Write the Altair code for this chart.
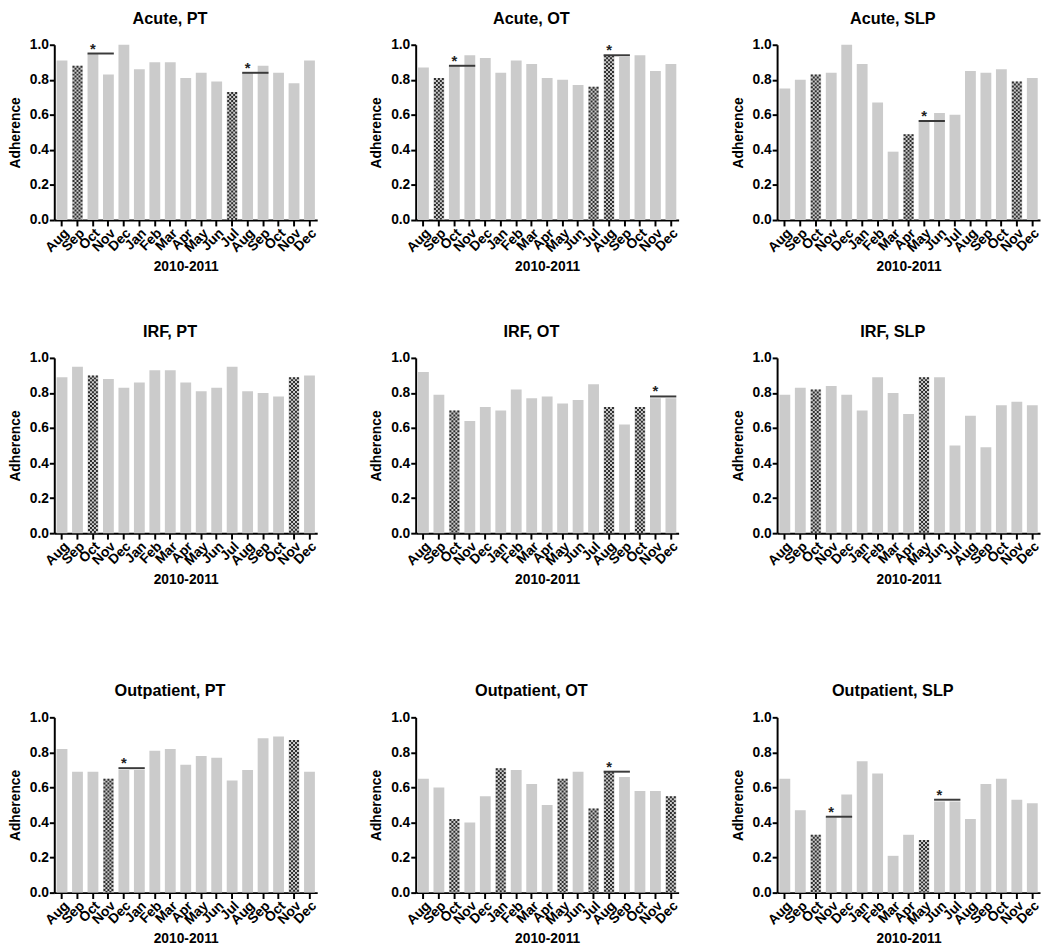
import altair as alt
import pandas as pd

# ---------------- data ----------------
months = ["Aug", "Sep", "Oct", "Nov", "Dec", "Jan", "Feb", "Mar", "Apr",
          "May", "Jun", "Jul", "Aug", "Sep", "Oct", "Nov", "Dec"]
years = ["2010"] * 5 + ["2011"] * 12
keys = [f"{m} {y}" for m, y in zip(months, years)]

titles = [
    "Acute, PT", "Acute, OT", "Acute, SLP",
    "IRF, PT", "IRF, OT", "IRF, SLP",
    "Outpatient, PT", "Outpatient, OT", "Outpatient, SLP",
]

y_ticks = [0.0, 0.2, 0.4, 0.6, 0.8, 1.0]

acute_pt = [0.91, 0.88, 0.95, 0.83, 1.00, 0.86, 0.90, 0.90, 0.81, 0.84, 0.79, 0.73, 0.84, 0.88, 0.84, 0.78, 0.91]
acute_ot = [0.87, 0.81, 0.88, 0.94, 0.925, 0.84, 0.91, 0.89, 0.81, 0.80, 0.77, 0.76, 0.94, 0.93, 0.94, 0.85, 0.89]
acute_slp = [0.75, 0.80, 0.83, 0.84, 1.00, 0.89, 0.67, 0.39, 0.49, 0.56, 0.61, 0.60, 0.85, 0.84, 0.86, 0.79, 0.81]
irf_pt = [0.89, 0.95, 0.90, 0.88, 0.83, 0.86, 0.93, 0.93, 0.86, 0.81, 0.83, 0.95, 0.81, 0.80, 0.78, 0.89, 0.90]
irf_ot = [0.92, 0.79, 0.70, 0.64, 0.72, 0.70, 0.82, 0.77, 0.78, 0.74, 0.76, 0.85, 0.72, 0.62, 0.72, 0.77, 0.77]
irf_slp = [0.79, 0.83, 0.82, 0.84, 0.79, 0.70, 0.89, 0.80, 0.68, 0.89, 0.89, 0.50, 0.67, 0.49, 0.73, 0.75, 0.73]
out_pt = [0.82, 0.69, 0.69, 0.65, 0.70, 0.70, 0.81, 0.82, 0.73, 0.78, 0.77, 0.64, 0.70, 0.88, 0.89, 0.87, 0.69]
out_ot = [0.65, 0.60, 0.42, 0.40, 0.55, 0.71, 0.70, 0.62, 0.50, 0.65, 0.69, 0.48, 0.69, 0.66, 0.58, 0.58, 0.55]
out_slp = [0.65, 0.47, 0.33, 0.43, 0.56, 0.75, 0.68, 0.21, 0.33, 0.30, 0.52, 0.52, 0.42, 0.62, 0.65, 0.53, 0.51]

series = [acute_pt, acute_ot, acute_slp, irf_pt, irf_ot, irf_slp, out_pt, out_ot, out_slp]

# indices of the hatched (checkered) bars in each panel
hatched = [
    [1, 11], [1, 11, 12], [2, 8, 15],
    [2, 15], [2, 12, 14], [2, 9],
    [3, 15], [2, 5, 9, 11, 12, 16], [2, 9],
]

# significance brackets: (first bar index, second bar index, level)
sig = [
    [(2, 3, 0.95), (12, 13, 0.84)],
    [(2, 3, 0.88), (12, 13, 0.94)],
    [(9, 10, 0.565)],
    [],
    [(15, 16, 0.78)],
    [],
    [(4, 5, 0.71)],
    [(12, 13, 0.69)],
    [(3, 4, 0.433), (10, 11, 0.53)],
]

# ---------------- styling ----------------
W, H = 267, 178
BAR = "#cbcbcb"
DARK = "#2e2e2e"
FONT = "Liberation Sans"

xscale = alt.Scale(domain=keys, paddingInner=0.3, paddingOuter=0.15)
yscale = alt.Scale(domain=[0, 1], nice=False)

X_AXIS = alt.Axis(title="2010-2011", labelAngle=315, labelAlign="right",
                  labelBaseline="top", labelExpr="split(datum.value, ' ')[0]",
                  labelPadding=0, labelOverlap=False, labelFontSize=14, tickSize=6,
                  titleY=47, titleBaseline="middle")
Y_AXIS = alt.Axis(title="Adherence", values=y_ticks, format=".1f", tickSize=5,
                  labelPadding=1, titlePadding=7, labelOverlap=False, labelFontSize=14,
                  tickCount=6)


def xenc(field):
    return alt.X(field, scale=xscale, sort=keys, axis=X_AXIS)


def yenc(field):
    return alt.Y(field, scale=yscale, axis=Y_AXIS)


def panel(i):
    df = pd.DataFrame({
        "key": keys,
        "value": series[i],
        "hatched": [k in hatched[i] for k in range(len(keys))],
    })
    base = alt.Chart(df)
    layers = [base.mark_bar(color=BAR).encode(x=xenc("key:N"), y=yenc("value:Q"))]
    offsets = [-4, -2, 0, 2, 4]
    for j, off in enumerate(offsets):
        layers.append(
            base.transform_filter("datum.hatched").mark_rule(
                color=DARK, strokeWidth=2, strokeDash=[2, 2],
                strokeDashOffset=2 * (j % 2), xOffset=off
            ).encode(x=xenc("key:N"), y=yenc("value:Q"), y2=alt.datum(0))
        )
    if sig[i]:
        sdf = pd.DataFrame({
            "start": [keys[a] for a, b, l in sig[i]],
            "end": [keys[b] for a, b, l in sig[i]],
            "value": [l for a, b, l in sig[i]],
        })
        sb = alt.Chart(sdf)
        layers.append(
            sb.mark_rule(color="#3a3a3a", strokeWidth=2, xOffset=-5.5, x2Offset=5.5).encode(
                x=xenc("start:N"), x2="end:N", y=yenc("value:Q"),
            )
        )
        layers.append(
            sb.mark_text(text="*", fontSize=15, fontWeight="bold", color="#222",
                         baseline="middle", dy=-5).encode(
                x=xenc("start:N"), y=yenc("value:Q"),
            )
        )
    return alt.layer(*layers).properties(
        width=W, height=H,
        title=alt.TitleParams(titles[i], fontSize=16.5, fontWeight="bold", offset=11, dx=-16),
    )


rows = [alt.hconcat(*[panel(r * 3 + c) for c in range(3)], spacing=51) for r in range(3)]
chart = alt.vconcat(alt.vconcat(rows[0], rows[1], spacing=51), rows[2], spacing=98).properties(
    padding={"top": -5, "left": 0, "right": 0, "bottom": 0}
).configure(font=FONT).configure_view(stroke=None).configure_axis(
    domainColor="black", domainWidth=2, tickColor="black", tickWidth=2,
    labelFont=FONT, labelFontWeight="bold", labelColor="black",
    titleFont=FONT, titleFontSize=14, titleFontWeight="bold", titleColor="black",
    grid=False,
).configure_title(font=FONT, color="black")

chart.save("out.html", embed_options={"renderer": "svg", "actions": False})
